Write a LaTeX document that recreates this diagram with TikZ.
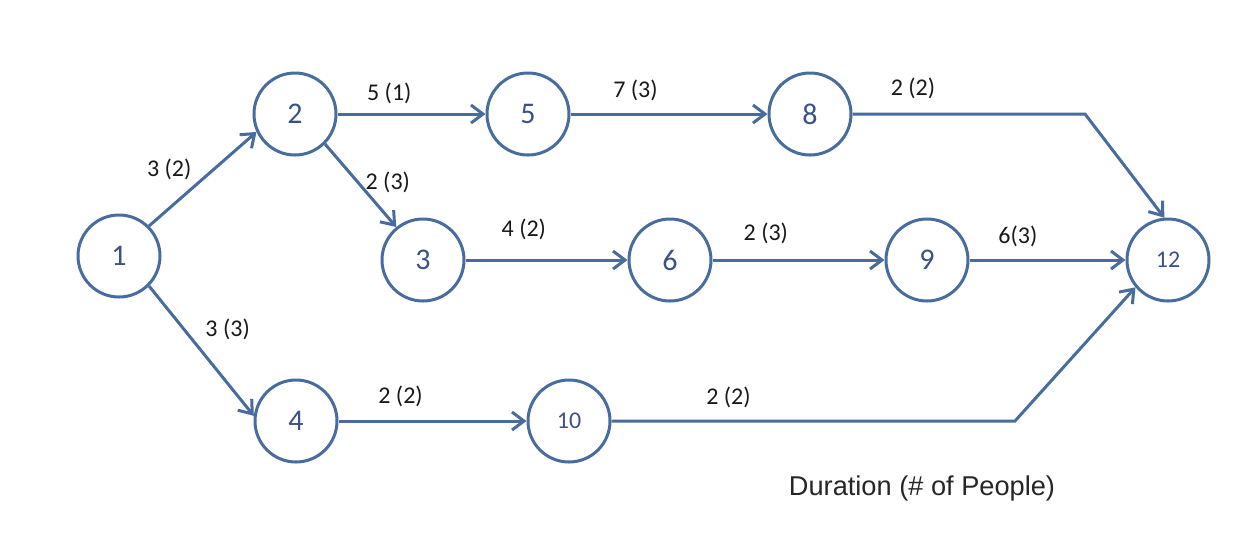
\documentclass[tikz,border=0pt]{standalone}
\usepackage{fontspec}
\setmainfont{Carlito}
\newfontfamily\arialfont{Liberation Sans}
\usetikzlibrary{arrows.meta,positioning,calc}
\definecolor{netblue}{RGB}{72,108,158}
\definecolor{numblue}{RGB}{58,82,132}
\tikzset{
  % Event node: circle, number inside
  evnode/.style={draw=netblue, circle, line width=1.5pt, minimum size=41pt,
                 inner sep=0pt, text=numblue, font=\fontsize{15}{16}\selectfont},
  evnode-small/.style={evnode, font=\fontsize{12}{13}\selectfont},
  % Activity arrow
  actarr/.style={draw=netblue, line width=1.5pt,
                 -{Straight Barb[length=6pt,width=9pt,line width=1.5pt]}},
  % Duration (people) label on an activity
  durlabel/.style={font=\fontsize{12}{13}\selectfont, text=black!90, inner sep=1pt},
  % Legend text
  legendtext/.style={font=\arialfont\fontsize{13.6}{15}\selectfont, text=black!85}
}

\begin{document}
\begin{tikzpicture}[x=0.5pt, y=-0.5pt]
\useasboundingbox (0,0) rectangle (1260,554);

% Events
\node[evnode] (n1) at (119,256) {1};
\node[evnode] (n2) at (295,114) {2};
\node[evnode] (n5) at (528,114) {5};
\node[evnode] (n8) at (810,114) {8};
\node[evnode] (n3) at (423,260) {3};
\node[evnode] (n6) at (670,260) {6};
\node[evnode] (n9) at (927,260) {9};
\node[evnode-small] (n12) at (1168,260) {12};
\node[evnode] (n4) at (296,421) {4};
\node[evnode-small] (n10) at (569,421) {10};

% Bends
\coordinate (k8) at (1085,114);
\coordinate (k10) at (1015,421);

% Activities
\draw[actarr] (n1.45) -- node[durlabel, pos=.3, xshift=-6pt, yshift=14pt] {3 (2)} (n2.205);
\draw[actarr] (n1.315) -- node[durlabel, pos=.33, xshift=22pt] {3 (3)} (n4.173);
\draw[actarr] (n2.315) -- node[durlabel, pos=.46, xshift=15pt] {2 (3)} (n3.129);
\draw[actarr] (n2.east) -- node[durlabel, pos=.35, yshift=10.5pt] {5 (1)} (n5.west);
\draw[actarr] (n5.east) -- node[durlabel, pos=.33, yshift=12pt] {7 (3)} (n8.west);
\draw[actarr] (n8.east) -- node[durlabel, pos=.26, yshift=13pt] {2 (2)} (k8) -- (n12.95);
\draw[actarr] (n3.east) -- node[durlabel, pos=.36, yshift=15.5pt] {4 (2)} (n6.west);
\draw[actarr] (n6.east) -- node[durlabel, pos=.31, yshift=13.5pt] {2 (3)} (n9.west);
\draw[actarr] (n9.east) -- node[durlabel, pos=.31, yshift=12pt] {6(3)} (n12.west);
\draw[actarr] (n4.east) -- node[durlabel, pos=.33, yshift=12.5pt] {2 (2)} (n10.west);
\draw[actarr] (n10.east) -- node[durlabel, pos=.29, yshift=12pt] {2 (2)} (k10) -- (n12.220);

% Legend
\node[legendtext] (legend) at (922,488) {Duration (\# of People)};

\end{tikzpicture}
\end{document}
